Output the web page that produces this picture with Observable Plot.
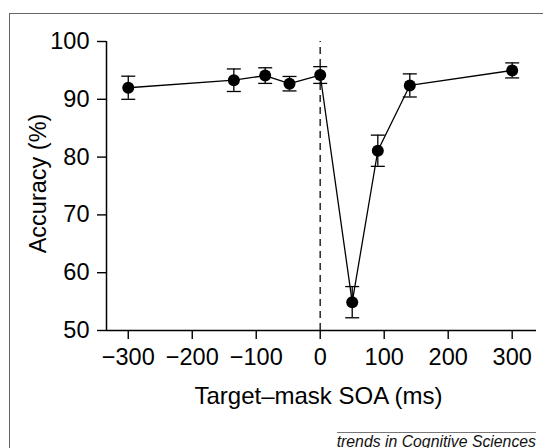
<!DOCTYPE html>
<html>
<head>
<meta charset="utf-8">
<script src="https://cdn.jsdelivr.net/npm/d3@7"></script>
<script src="https://cdn.jsdelivr.net/npm/@observablehq/plot@0.6"></script>
<style>
  html, body { margin: 0; padding: 0; background: #fff; overflow: hidden; }
  #wrap { position: relative; width: 543px; height: 448px; font-family: "Liberation Sans", Arial, Helvetica, sans-serif; }
  #frame { position: absolute; left: 9px; top: 13px; width: 600px; height: 500px;
           border-left: 1.5px solid #666; border-top: 1.5px solid #666; pointer-events: none; }
  #chart { position: absolute; left: 0; top: 0; }
  #caption { position: absolute; right: 7px; top: 431.5px; font-style: italic; font-size: 15.8px;
             line-height: 15px; border-top: 1.3px solid #777; padding-top: 1px; color: #111; white-space: nowrap; }
</style>
</head>
<body>
<div id="wrap">
  <div id="frame"></div>
  <div id="chart"></div>
  <div id="caption">trends in Cognitive Sciences</div>
</div>
<script>
// Data
const soa      = [-300, -135, -86, -48, 0, 50, 90, 140, 300];      // Target–mask SOA (ms)
const accuracy = [92.0, 93.3, 94.1, 92.7, 94.2, 54.9, 81.1, 92.4, 95.0]; // Accuracy (%)
const errorBar = [2.0, 1.95, 1.35, 1.25, 1.45, 2.7, 2.7, 2.0, 1.3];   // ± error
const xTicks = [-300, -200, -100, 0, 100, 200, 300];
const yTicks = [50, 60, 70, 80, 90, 100];
const xDomain = [-334, 338];
const yDomain = [50, 100];
const referenceSOA = [0];
const xLabel = "Target–mask SOA (ms)";
const yLabel = "Accuracy (%)";

const data = soa.map((s, i) => ({soa: s, acc: accuracy[i], lo: accuracy[i] - errorBar[i], hi: accuracy[i] + errorBar[i]}));

const capSymbol = {
  draw(context, size) {
    const w = Math.sqrt(size / Math.PI);
    context.moveTo(-w, 0);
    context.lineTo(w, 0);
  }
};

const chart = Plot.plot({
  width: 543,
  height: 448,
  marginLeft: 106,
  marginRight: 7,
  marginTop: 41,
  marginBottom: 118,
  style: {fontFamily: '"Liberation Sans", Arial, Helvetica, sans-serif', fontSize: "23.5px", background: "transparent", color: "#000"},
  x: {domain: xDomain},
  y: {domain: yDomain},
  marks: [
    // dashed reference line at SOA = 0
    Plot.ruleX(referenceSOA, {y1: yDomain[0], y2: yDomain[1], stroke: "#333", strokeWidth: 1.6, strokeDasharray: "7,5"}),
    // axis lines
    Plot.ruleX([xDomain[0]], {stroke: "#000", strokeWidth: 1.5}),
    Plot.ruleY([yDomain[0]], {stroke: "#000", strokeWidth: 1.5}),
    Plot.axisX({ticks: xTicks, tickSize: 9, tickPadding: 9, label: null, fontSize: 23.5, strokeWidth: 1.4}),
    Plot.axisY({ticks: yTicks, tickSize: 9, tickPadding: 8, label: null, fontSize: 23.5, strokeWidth: 1.4}),
    // axis titles
    Plot.text([xLabel], {text: d => d, frameAnchor: "bottom", textAnchor: "middle", lineAnchor: "bottom", dx: -3, dy: 73, fontSize: 24, fill: "#000"}),
    Plot.text([yLabel], {text: d => d, frameAnchor: "left", textAnchor: "middle", lineAnchor: "bottom", rotate: -90, dx: -61, dy: -2.5, fontSize: 23.5, fill: "#000"}),
    // connecting line
    Plot.line(data, {x: "soa", y: "acc", stroke: "#000", strokeWidth: 1.3}),
    // error bars
    Plot.ruleX(data, {x: "soa", y1: "lo", y2: "hi", stroke: "#000", strokeWidth: 1.3}),
    Plot.dot(data, {x: "soa", y: "lo", symbol: capSymbol, r: 7, stroke: "#000", strokeWidth: 1.3, fill: "none"}),
    Plot.dot(data, {x: "soa", y: "hi", symbol: capSymbol, r: 7, stroke: "#000", strokeWidth: 1.3, fill: "none"}),
    // points
    Plot.dot(data, {x: "soa", y: "acc", r: 6, fill: "#000", stroke: "none"})
  ]
});
document.getElementById("chart").appendChild(chart);
</script>
</body>
</html>
